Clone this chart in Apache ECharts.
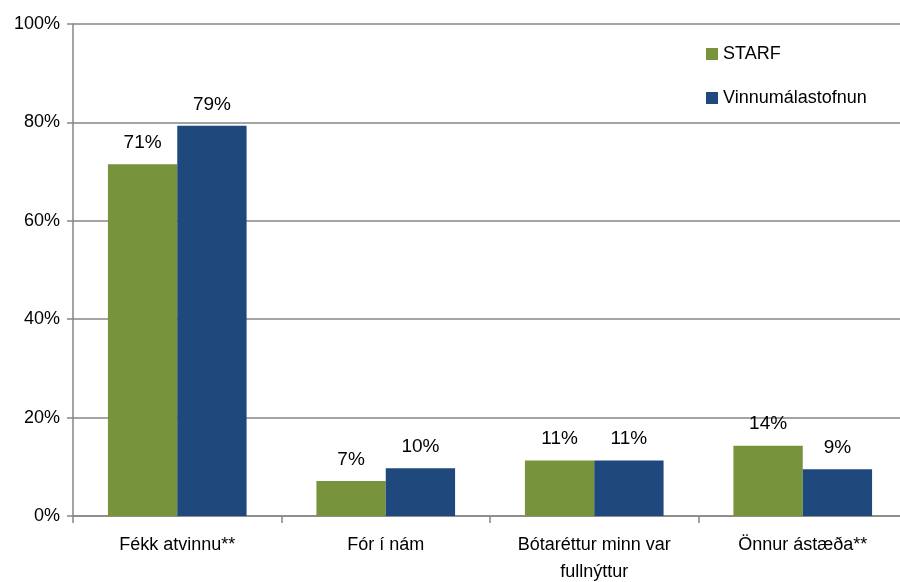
<!DOCTYPE html>
<html><head><meta charset="utf-8">
<script src="https://cdn.jsdelivr.net/npm/echarts@6/dist/echarts.min.js"></script>
<style>html,body{margin:0;padding:0;background:#fff}#c{width:900px;height:582px}</style>
</head><body><div id="c"></div>
<script>
var categories = ['Fékk atvinnu**', 'Fór í nám', 'Bótaréttur minn var\nfullnýttur', 'Önnur ástæða**'];
var starf = [71.5, 7.1, 11.3, 14.3];
var vinnu = [79.3, 9.7, 11.3, 9.5];
var starfLabels = ['71%', '7%', '11%', '14%'];
var vinnuLabels = ['79%', '10%', '11%', '9%'];
var yTicks = [0, 20, 40, 60, 80, 100];

var font = '"Liberation Sans", Arial, sans-serif';
var chart = echarts.init(document.getElementById('c'));
function mk(name, data, labels, color) {
  return {
    name: name, type: 'bar', data: data, barGap: '0%', barCategoryGap: '33.5%',
    itemStyle: { color: color },
    label: { show: true, position: 'top', distance: 12, fontFamily: font, fontSize: 19, color: '#000',
      formatter: function (p) { return labels[p.dataIndex]; } },
    z: 2
  };
}
chart.setOption({
  animation: false,
  textStyle: { fontFamily: font },
  legend: {
    orient: 'vertical', left: 701, top: 40, itemWidth: 12, itemHeight: 12, itemGap: 26,
    icon: 'rect', textStyle: { fontFamily: font, fontSize: 18, color: '#000' },
    data: ['STARF', 'Vinnumálastofnun']
  },
  grid: { left: 73, top: 24, width: 834, height: 492, containLabel: false, outerBoundsMode: 'none' },
  xAxis: {
    type: 'category', data: categories,
    axisLine: { lineStyle: { color: '#868686', width: 1.5 } },
    axisTick: { show: true, interval: 0, length: 7, lineStyle: { color: '#868686', width: 1.5 } },
    axisLabel: { interval: 0, fontFamily: font, fontSize: 18, color: '#000', margin: 16, lineHeight: 27 }
  },
  yAxis: {
    type: 'value', min: 0, max: 100, interval: 20,
    axisLine: { show: true, lineStyle: { color: '#868686', width: 1.5 } },
    axisTick: { show: true, length: 6, lineStyle: { color: '#868686', width: 1.5 } },
    splitLine: { lineStyle: { color: '#868686', width: 1.5 } },
    axisLabel: { fontFamily: font, fontSize: 18, color: '#000', margin: 13,
      formatter: function (v) { return yTicks.indexOf(v) >= 0 ? v + '%' : ''; } }
  },
  series: [mk('STARF', starf, starfLabels, '#77933C'), mk('Vinnumálastofnun', vinnu, vinnuLabels, '#1F497D')]
});
</script></body></html>
